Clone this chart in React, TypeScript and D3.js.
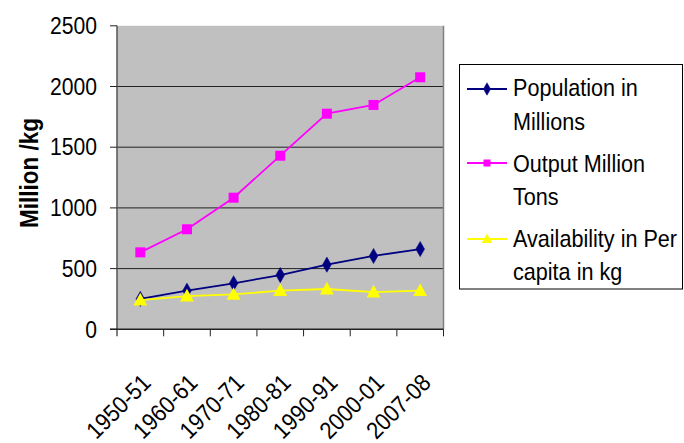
import React from "react";
import * as d3 from "d3";

const categories = ["1950-51", "1960-61", "1970-71", "1980-81", "1990-91", "2000-01", "2007-08"];
const population = [250, 318, 379, 447, 532, 604, 661];
const output = [634, 824, 1084, 1430, 1776, 1848, 2076];
const availability = [241, 274, 288, 318, 332, 307, 318];
const yTicks = [0, 500, 1000, 1500, 2000, 2500];

const W = 684;
const H = 443;
const plot = { left: 117, right: 443.5, top: 25.8, bottom: 329.3 };
const FONT = "'Liberation Sans', Arial, sans-serif";
const SQUEEZE = 0.9;

const x = d3
  .scaleBand<string>()
  .domain(categories)
  .range([plot.left, plot.right])
  .paddingInner(0)
  .paddingOuter(0);
const y = d3.scaleLinear().domain([0, 2500]).range([plot.bottom, plot.top]);

const cx = (c: string) => (x(c) as number) + x.bandwidth() / 2;

const series = [
  { name: ["Population in", "Millions"], values: population, color: "#000080", shape: "diamond" },
  { name: ["Output Million", "Tons"], values: output, color: "#FF00FF", shape: "square" },
  { name: ["Availability in Per", "capita in kg"], values: availability, color: "#FFFF00", shape: "triangle" },
];

function Marker({ shape, color, px, py, s }: { shape: string; color: string; px: number; py: number; s: number }) {
  if (shape === "diamond") {
    const p = d3.symbol(d3.symbolDiamond, s * s * 0.55)();
    return <path d={p as string} transform={`translate(${px},${py})`} fill={color} stroke={color} strokeWidth={0.5} />;
  }
  if (shape === "square") {
    return <rect x={px - s / 2} y={py - s / 2} width={s} height={s} fill={color} />;
  }
  const h = s;
  return (
    <path
      d={`M${px},${py - h * 0.6} L${px + h * 0.58},${py + h * 0.45} L${px - h * 0.58},${py + h * 0.45} Z`}
      fill={color}
    />
  );
}

export default function App() {
  const line = d3
    .line<number>()
    .x((_, i) => cx(categories[i]))
    .y((d) => y(d));

  const legendRows = [
    { lineY: 89, text: [96, 129.5] },
    { lineY: 163, text: [172, 205] },
    { lineY: 239, text: [247, 280] },
  ];

  return (
    <svg
      width={W}
      height={H}
      style={{ position: "absolute", left: 0, top: 0, background: "#fff" }}
      fontFamily={FONT}
    >
      <rect x={plot.left} y={plot.top} width={plot.right - plot.left} height={plot.bottom - plot.top} fill="#C0C0C0" />
      {yTicks
        .filter((t) => t > 0 && t < 2500)
        .map((t) => (
          <line key={t} x1={plot.left} x2={plot.right} y1={y(t)} y2={y(t)} stroke="#222" strokeWidth={1} />
        ))}
      <line x1={plot.right} x2={plot.right} y1={plot.top} y2={plot.bottom} stroke="#808080" strokeWidth={1.5} />
      <line x1={plot.left} x2={plot.left} y1={plot.top} y2={plot.bottom + 7} stroke="#555" strokeWidth={1.5} />
      <line x1={plot.left - 7} x2={plot.right} y1={plot.bottom} y2={plot.bottom} stroke="#222" strokeWidth={1.5} />
      {yTicks.map((t) => (
        <g key={t}>
          <line x1={plot.left - 7} x2={plot.left} y1={y(t)} y2={y(t)} stroke="#222" strokeWidth={1} />
          <text
            transform={`translate(97,${y(t)}) scale(${SQUEEZE + 0.02},1)`}
            dy="0.36em"
            textAnchor="end"
            fontSize={23}
            fill="#000"
          >
            {t}
          </text>
        </g>
      ))}
      {categories.map((c) => (
        <line
          key={c}
          x1={(x(c) as number) + x.bandwidth()}
          x2={(x(c) as number) + x.bandwidth()}
          y1={plot.bottom}
          y2={plot.bottom + 7}
          stroke="#222"
          strokeWidth={1}
        />
      ))}
      {categories.map((c) => (
        <text
          key={c}
          transform={`translate(${cx(c) + 12},${plot.bottom + 55}) rotate(-45) scale(${SQUEEZE},1)`}
          textAnchor="end"
          fontSize={24}
          fill="#000"
        >
          {c}
        </text>
      ))}
      <text
        transform={`translate(38,173) rotate(-90)`}
        textAnchor="middle"
        fontSize={25}
        fontWeight="bold"
        textLength={110}
        lengthAdjust="spacingAndGlyphs"
        fill="#000"
      >
        Million /kg
      </text>
      {series.map((s) => (
        <g key={s.shape}>
          <path d={line(s.values) as string} fill="none" stroke={s.color} strokeWidth={1.8} />
          {s.values.map((v, i) => (
            <Marker
              key={i}
              shape={s.shape}
              color={s.color}
              px={cx(categories[i])}
              py={y(v)}
              s={s.shape === "square" ? 10 : s.shape === "diamond" ? 11 : 12}
            />
          ))}
        </g>
      ))}
      <rect x={459.5} y={64.5} width={223} height={224.5} fill="#fff" stroke="#000" strokeWidth={1} />
      {series.map((s, i) => (
        <g key={s.shape}>
          <line x1={467} x2={507} y1={legendRows[i].lineY} y2={legendRows[i].lineY} stroke={s.color} strokeWidth={1.8} />
          <Marker
            shape={s.shape}
            color={s.color}
            px={487}
            py={legendRows[i].lineY}
            s={s.shape === "square" ? 7 : 9}
          />
          {s.name.map((n, j) => (
            <text
              key={j}
              transform={`translate(513,${legendRows[i].text[j]}) scale(${SQUEEZE},1)`}
              fontSize={24}
              fill="#000"
            >
              {n}
            </text>
          ))}
        </g>
      ))}
    </svg>
  );
}
